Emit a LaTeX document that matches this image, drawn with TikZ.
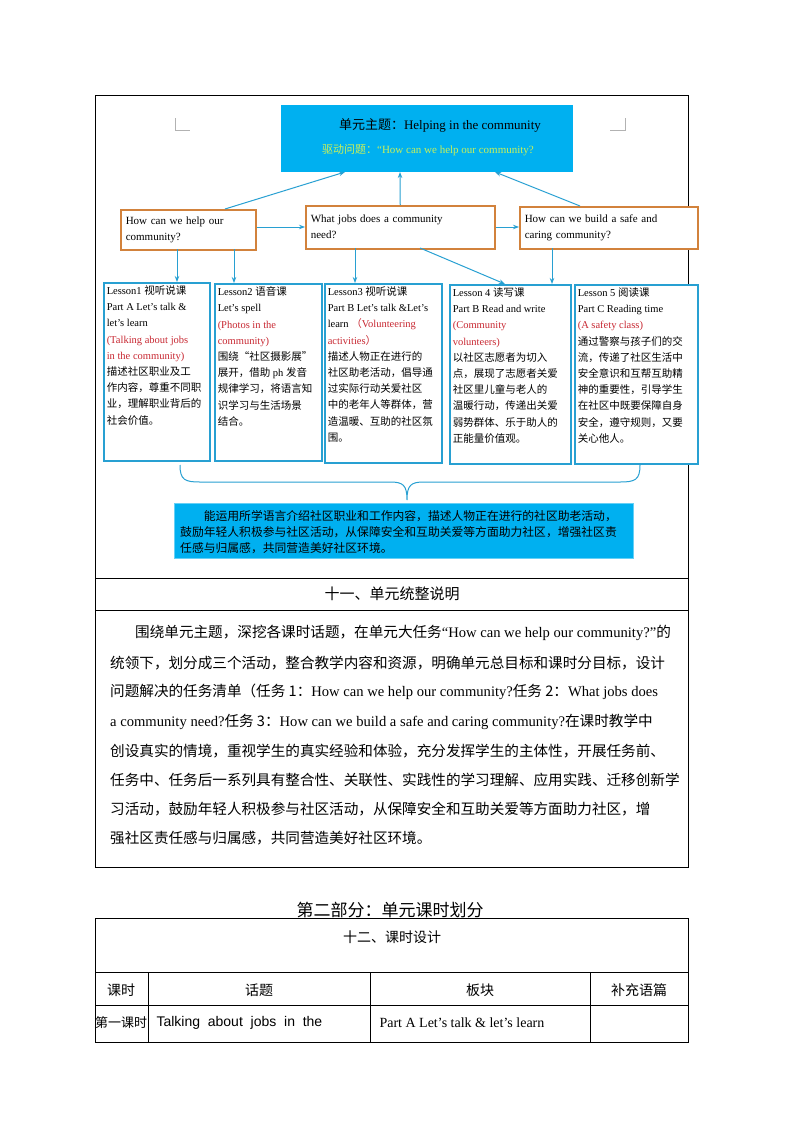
\documentclass[tikz,border=0pt]{standalone}
\usepackage{fontspec}
\setmainfont{Liberation Serif}
\newfontfamily\cjk{Noto Sans CJK SC}
\XeTeXlinebreaklocale "zh"
\XeTeXlinebreakskip=0pt plus 1pt
\newcommand{\C}[1]{{\cjk #1}}
\newcommand{\lb}[3]{\begin{minipage}[t][#2pt][t]{#1pt}\raggedright #3\end{minipage}}
\usetikzlibrary{arrows.meta}
\definecolor{cy}{RGB}{0,176,240}
\definecolor{bl}{RGB}{40,160,210}
\definecolor{og}{RGB}{210,130,60}
\definecolor{rd}{RGB}{200,40,50}
\definecolor{yg}{RGB}{200,240,90}
\begin{document}
\begin{tikzpicture}[x=1pt,y=-1pt,
  qbox/.style={draw=og,line width=1.5pt,fill=white,align=left,inner sep=4pt,font=\fontsize{11}{16}\selectfont},
  lbox/.style={draw=bl,line width=1.5pt,fill=white,anchor=north west,inner sep=3pt,font=\fontsize{10.5}{16.2}\selectfont},
  arr/.style={draw=bl,line width=1pt,-{Stealth[length=6pt]}},
  frame/.style={draw=black,line width=0.6pt},
  para/.style={anchor=west,inner sep=0pt,font=\fontsize{14.6}{18}\selectfont}]
\useasboundingbox (0,0) rectangle (800,1132);
\fill[white] (0,0) rectangle (800,1132);
% outer table
\draw[frame] (95,95) rectangle (688,867);
\draw[frame] (95,578) -- (688,578);
\draw[frame] (95,610) -- (688,610);
% corner marks
\draw[gray!60,line width=0.5pt] (175,118) -- (175,130) -- (190,130);
\draw[gray!60,line width=0.5pt] (625,118) -- (625,130) -- (610,130);
% top box
\node[fill=cy,minimum width=292,minimum height=67,anchor=north west,inner sep=0] (top) at (281,105) {};
\node[font=\fontsize{13}{15}\selectfont] (t1) at (440,125) {\C{单元主题：}Helping in the community};
\node[font=\fontsize{11}{14}\selectfont,text=yg] (t2) at (428,150) {\C{驱动问题：}“How can we help our community?};
% question boxes
\node[qbox,minimum width=135,minimum height=40,anchor=north west,text width=125] (q1) at (120,209) {How can we help our\\community?};
\node[qbox,minimum width=189,minimum height=43,anchor=north west,text width=179] (q2) at (305,205) {What jobs does a community\\need?};
\node[qbox,minimum width=178,minimum height=42,anchor=north west,text width=168] (q3) at (519,206) {How can we build a safe and\\caring community?};
\draw[arr] (225,209) -- (345,172);
\draw[arr] (q2.north) -- (400,172);
\draw[arr] (580,206) -- (495,172);
\draw[arr] (q1.east |- 0,227) -- (q2.west |- 0,227);
\draw[arr] (q2.east |- 0,227) -- (q3.west |- 0,227);
% lessons
\node[lbox] (l1) at (103,282) {\lb{100}{172}{Lesson1 \C{视听说课}\\Part A Let's talk \&\\let's learn\\\textcolor{rd}{(Talking about jobs}\\\textcolor{rd}{in the community)}\\\C{描述社区职业及工}\\\C{作内容，尊重不同职}\\\C{业，理解职业背后的}\\\C{社会价值。}}};
\node[lbox] (l2) at (214,283) {\lb{101}{171}{Lesson2 \C{语音课}\\Let's spell\\\textcolor{rd}{(Photos in the}\\\textcolor{rd}{community)}\\\C{围绕“社区摄影展”}\\\C{展开，借助} ph \C{发音}\\\C{规律学习，将语言知}\\\C{识学习与生活场景}\\\C{结合。}}};
\node[lbox] (l3) at (324,283) {\lb{111}{173}{Lesson3 \C{视听说课}\\Part B Let's talk \&Let's\\learn \textcolor{rd}{\C{（}Volunteering}\\\textcolor{rd}{activities\C{）}}\\\C{描述人物正在进行的}\\\C{社区助老活动，倡导通}\\\C{过实际行动关爱社区}\\\C{中的老年人等群体，营}\\\C{造温暖、互助的社区氛}\\\C{围。}}};
\node[lbox] (l4) at (449,284) {\lb{115}{173}{Lesson 4 \C{读写课}\\Part B Read and write\\\textcolor{rd}{(Community}\\\textcolor{rd}{volunteers)}\\\C{以社区志愿者为切入}\\\C{点，展现了志愿者关爱}\\\C{社区里儿童与老人的}\\\C{温暖行动，传递出关爱}\\\C{弱势群体、乐于助人的}\\\C{正能量价值观。}}};
\node[lbox] (l5) at (574,284) {\lb{117}{173}{Lesson 5 \C{阅读课}\\Part C Reading time\\\textcolor{rd}{(A safety class)}\\\C{通过警察与孩子们的交}\\\C{流，传递了社区生活中}\\\C{安全意识和互帮互助精}\\\C{神的重要性，引导学生}\\\C{在社区中既要保障自身}\\\C{安全，遵守规则，又要}\\\C{关心他人。}}};
\draw[arr] (177,249) -- (177,282);
\draw[arr] (234,249) -- (234,283);
\draw[arr] (355,248) -- (355,283);
\draw[arr] (420,248) -- (505,284);
\draw[arr] (552,248) -- (552,284);
% brace
\draw[bl,line width=1pt] (180,465) .. controls (180,480) and (185,482) .. (200,482) -- (390,482) .. controls (403,482) and (407,485) .. (407,500) .. controls (407,485) and (411,482) .. (424,482) -- (620,482) .. controls (635,482) and (640,480) .. (640,465);
% bottom box
\node[fill=cy,draw=cy!60!white,minimum width=459,minimum height=55,anchor=north west,inner sep=0] (bot) at (174,503) {};
\node[anchor=north west,text width=450,inner sep=0,font=\fontsize{11.8}{16}\selectfont\cjk] (bt) at (180,510) {\hspace*{2em}能运用所学语言介绍社区职业和工作内容，描述人物正在进行的社区助老活动，\\鼓励年轻人积极参与社区活动，从保障安全和互助关爱等方面助力社区，增强社区责\\任感与归属感，共同营造美好社区环境。};
% title row
\node[font=\fontsize{15}{18}\selectfont\cjk] (h11) at (392,594) {十一、单元统整说明};
% paragraph
\node[para] (p1) at (135,633) {\C{围绕单元主题，深挖各课时话题，在单元大任务}“How can we help our community?”\C{的}};
\node[para] (p2) at (110,663) {\C{统领下，划分成三个活动，整合教学内容和资源，明确单元总目标和课时分目标，设计}};
\node[para] (p3) at (110,692) {\C{问题解决的任务清单（任务 1：}How can we help our community?\C{任务 2：}What jobs does};
\node[para] (p4) at (110,722) {a community need?\C{任务 3：}How can we build a safe and caring community?\C{在课时教学中}};
\node[para] (p5) at (110,751) {\C{创设真实的情境，重视学生的真实经验和体验，充分发挥学生的主体性，开展任务前、}};
\node[para] (p6) at (110,780) {\C{任务中、任务后一系列具有整合性、关联性、实践性的学习理解、应用实践、迁移创新学}};
\node[para] (p7) at (110,809) {\C{习活动，鼓励年轻人积极参与社区活动，从保障安全和互助关爱等方面助力社区，增}};
\node[para] (p8) at (110,838) {\C{强社区责任感与归属感，共同营造美好社区环境。}};
% part 2
\node[font=\fontsize{17}{20}\selectfont\cjk] (part2) at (390,910) {第二部分：单元课时划分};
\draw[frame] (95,918) rectangle (688,1042);
\draw[frame] (95,972) -- (688,972);
\draw[frame] (95,1005) -- (688,1005);
\draw[frame] (148,972) -- (148,1042);
\draw[frame] (370,972) -- (370,1042);
\draw[frame] (590,972) -- (590,1042);
\node[font=\fontsize{14}{16}\selectfont\cjk] (h12) at (392,937) {十二、课时设计};
\node[font=\fontsize{14}{16}\selectfont\cjk] (c1) at (121,990) {课时};
\node[font=\fontsize{14}{16}\selectfont\cjk] (c2) at (259,990) {话题};
\node[font=\fontsize{14}{16}\selectfont\cjk] (c3) at (480,990) {板块};
\node[font=\fontsize{14}{16}\selectfont\cjk] (c4) at (639,990) {补充语篇};
\node[font=\fontsize{13}{16}\selectfont\cjk] (d1) at (121,1023) {第一课时};
\node[anchor=west,font=\fontsize{14}{16}\selectfont\fontspec{Liberation Sans}] (d2) at (153,1023) {Talking\ \ about\ \ jobs\ \ in\ \ the};
\node[anchor=west,font=\fontsize{14}{16}\selectfont] (d3) at (376,1023) {Part A Let’s talk \& let's learn};
\end{tikzpicture}
\end{document}
